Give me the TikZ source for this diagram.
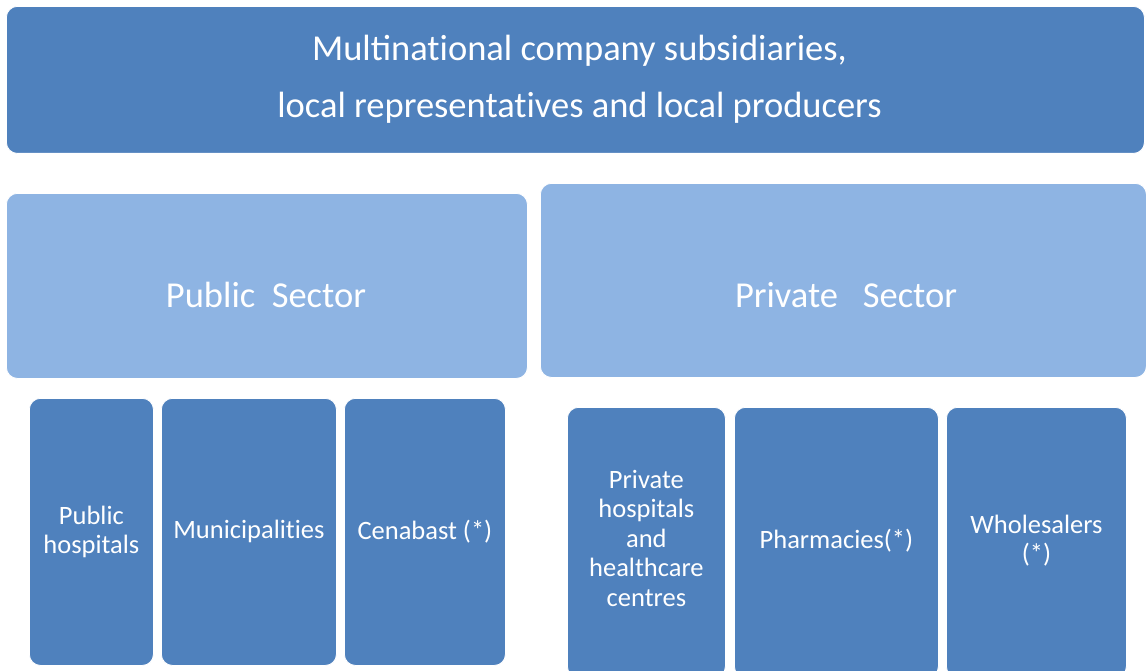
\documentclass[tikz,border=0pt]{standalone}
\usepackage{fontspec}
\setmainfont{Carlito}
\definecolor{darkblue}{HTML}{4F81BD}
\definecolor{lightblue}{HTML}{8EB4E3}
% keep t and i apart (no ligature)
\newcommand{\tisep}{t\kern0pt i}
\tikzset{
  box/.style={fill=#1, draw=white, line width=0.8pt, rounded corners=11pt, anchor=north west, inner sep=0pt},
  boxtext/.style={text=white, align=center, font=\fontsize{26.5}{29.5}\selectfont},
  bigtext/.style={text=white, align=center, font=\fontsize{36.5}{57}\selectfont}
}
\begin{document}
\begin{tikzpicture}[x=1pt,y=-1pt]
\useasboundingbox (0,0) rectangle (1146,671);
% top row
\node[box=darkblue, minimum width=1138pt, minimum height=147pt] (top) at (6,6) {};
\node[bigtext] (toptext) at (579.5,79) {Multina\tisep onal company subsidiaries,\\local representa\tisep ves and local producers};
% sectors
\node[box=lightblue, minimum width=521pt, minimum height=185pt] (public) at (6,193) {};
\node[bigtext] (publictext) at (266,295) {Public\ \ Sector};
\node[box=lightblue, minimum width=606pt, minimum height=194pt] (private) at (540,183) {};
\node[bigtext] (privatetext) at (846,295) {Private\ \ \ Sector};
% public sector members
\node[box=darkblue, minimum width=124pt, minimum height=267pt] (pubhosp) at (29,398) {};
\node[boxtext] at (pubhosp.center) {Public\\hospitals};
\node[box=darkblue, minimum width=175pt, minimum height=267pt] (munic) at (161,398) {};
\node[boxtext] at (munic.center) {Municipali\tisep es};
\node[box=darkblue, minimum width=161pt, minimum height=267pt] (cenabast) at (344,398) {};
\node[boxtext] at (cenabast.center) {Cenabast (*)};
% private sector members
\node[box=darkblue, minimum width=158pt, minimum height=270pt] (privhosp) at (567,407) {};
\node[boxtext] at ([yshift=4pt]privhosp.center) {Private\\hospitals\\and\\healthcare\\centres};
\node[box=darkblue, minimum width=204pt, minimum height=270pt] (pharm) at (734,407) {};
\node[boxtext] at ([yshift=2pt]pharm.center) {Pharmacies(*)};
\node[box=darkblue, minimum width=180pt, minimum height=270pt] (whole) at (946,407) {};
\node[boxtext] at ([yshift=2pt]whole.center) {Wholesalers\\(*)};
\end{tikzpicture}
\end{document}
